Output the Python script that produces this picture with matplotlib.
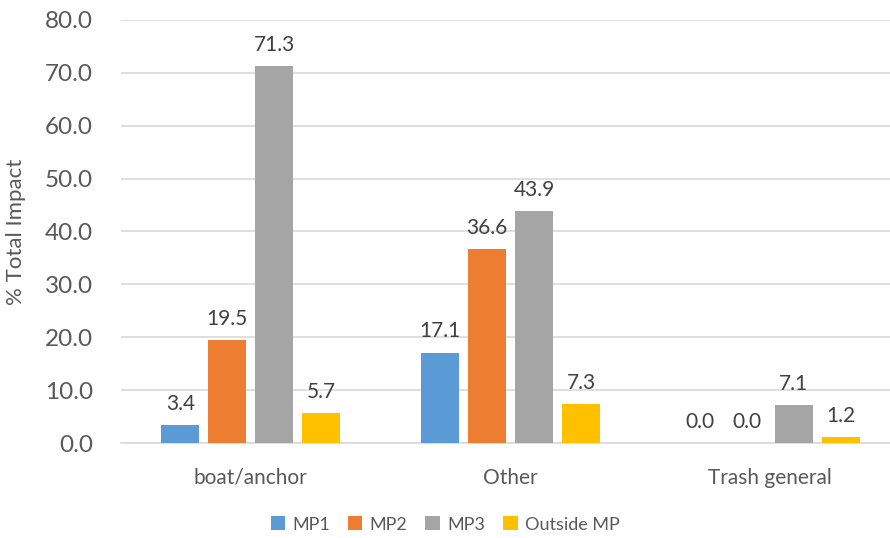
import matplotlib
matplotlib.use("Agg")
import matplotlib.pyplot as plt
import numpy as np

categories = ["boat/anchor", "Other", "Trash general"]
series_names = ["MP1", "MP2", "MP3", "Outside MP"]
mp1 = [3.4, 17.1, 0.0]
mp2 = [19.5, 36.6, 0.0]
mp3 = [71.3, 43.9, 7.1]
outside = [5.7, 7.3, 1.2]
colors = ["#5B9BD5", "#ED7D31", "#A5A5A5", "#FFC000"]
yticks = [0, 10, 20, 30, 40, 50, 60, 70, 80]

plt.rcParams['font.family'] = ['Lato', 'DejaVu Sans']
txt = "#595959"

fig = plt.figure(figsize=(8.9, 5.38), dpi=100)
ax = fig.add_axes([121/890, 1-443/538, (900-121)/890, (443-20)/538])

x = np.arange(len(categories))
width = 0.146
pitch = 0.181
all_series = [mp1, mp2, mp3, outside]
for i, (name, vals, c) in enumerate(zip(series_names, all_series, colors)):
    pos = x + (i - 1.5) * pitch
    bars = ax.bar(pos, vals, width, color=c, label=name, zorder=3)
    for b, v in zip(bars, vals):
        ax.annotate(f"{v:.1f}", (b.get_x() + b.get_width()/2, v),
                    xytext=(0, 8), textcoords="offset points",
                    ha="center", va="bottom", fontsize=15, color="#404040")

ax.set_xlim(-0.5, 2.5)
ax.set_ylim(0, 80)
ax.set_yticks(yticks)
ax.set_yticklabels([f"{t:.1f}" for t in yticks], fontsize=17.5, color=txt)
ax.set_xticks(x)
ax.set_xticklabels(categories, fontsize=15, color=txt)
ax.tick_params(axis="both", length=0)
ax.tick_params(axis="y", pad=20)
ax.tick_params(axis="x", pad=18)
ax.grid(axis="y", color="#D9D9D9", linewidth=1.2, zorder=0)
for s in ["top", "right", "left"]:
    ax.spines[s].set_visible(False)
ax.spines["bottom"].set_color("#D9D9D9")
ax.spines["bottom"].set_linewidth(1.2)
ax.set_ylabel("% Total Impact", fontsize=16, color=txt, labelpad=14)

fig.legend(loc="lower center", bbox_to_anchor=(0.5, -0.02), ncol=4, frameon=False,
           fontsize=13, handlelength=0.8, handleheight=0.8, columnspacing=1.0,
           handletextpad=0.4, labelcolor=txt)

fig.savefig("out.png", dpi=100)
